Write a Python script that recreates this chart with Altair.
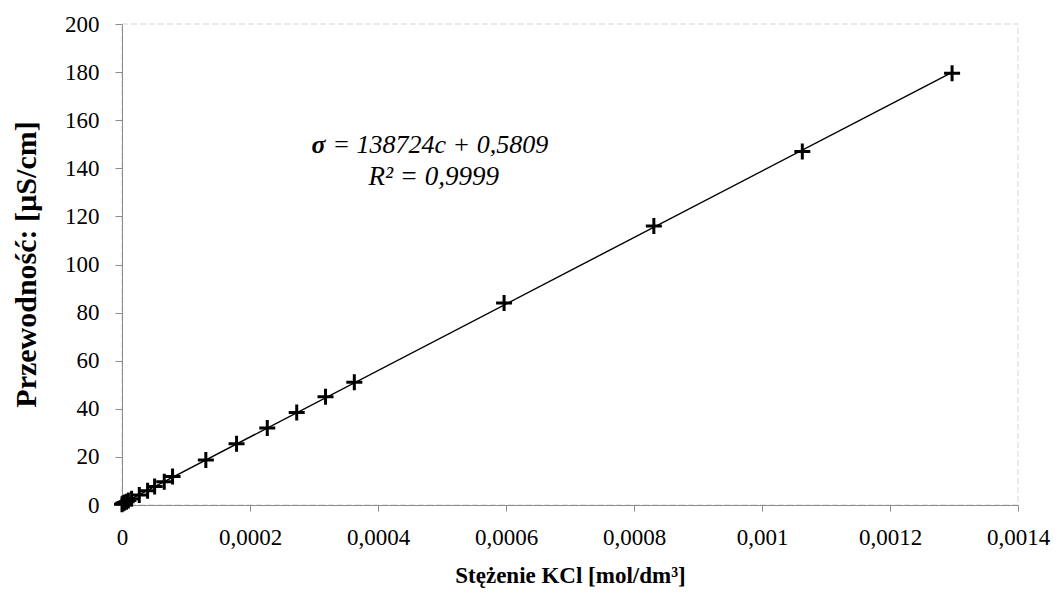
import altair as alt
import pandas as pd

# Concentration of KCl [mol/dm3] and conductivity [uS/cm]
conc = [0.0, 0.000002, 0.000004, 0.000007, 0.000010, 0.000015, 0.000027,
        0.000040, 0.000051, 0.000066, 0.000079, 0.000131, 0.000179,
        0.000227, 0.000273, 0.000318, 0.000363, 0.000597, 0.000831,
        0.001063, 0.001297]
cond = [0.3, 0.7, 1.0, 1.4, 1.9, 2.6, 4.2, 5.9, 7.7, 9.7, 11.8, 18.7, 25.5,
        32.0, 38.5, 45.0, 51.0, 84.0, 116.0, 147.0, 179.5]

x_ticks = [0, 0.0002, 0.0004, 0.0006, 0.0008, 0.001, 0.0012, 0.0014]
y_ticks = [0, 20, 40, 60, 80, 100, 120, 140, 160, 180, 200]

eq_sigma = "σ"
eq_rest = "= 138724c + 0,5809"
eq_r2 = "R² = 0,9999"

x_title = "Stężenie KCl [mol/dm³]"
y_title = "Przewodność: [µS/cm]"

FONT = "Liberation Serif"
AXIS_GREY = "#8c8c8c"

df = pd.DataFrame({"c": conc, "s": cond})
one = pd.DataFrame({"k": [0]})

xscale = alt.Scale(domain=[0, 0.0014], nice=False, zero=True)
yscale = alt.Scale(domain=[0, 200], nice=False)

x_axis = alt.Axis(
    values=x_ticks,
    labelExpr="replace(format(datum.value, '~g'), '.', ',')",
    grid=False, domainColor=AXIS_GREY, tickColor=AXIS_GREY, tickSize=6,
    labelPadding=15, labelFont=FONT, labelFontSize=23, labelColor="black",
    labelFlush=False, labelOverlap=False,
    title=x_title, titleFont=FONT, titleFontSize=23, titleFontWeight="bold",
    titleColor="black", titleX=448, titleY=70, titleBaseline="middle",
    titleAlign="center",
)
y_axis = alt.Axis(
    values=y_ticks,
    grid=False, domainColor=AXIS_GREY, tickColor=AXIS_GREY, tickSize=7,
    labelPadding=16, labelFont=FONT, labelFontSize=23, labelColor="black",
    labelFlush=False, labelOverlap=False,
    title=y_title, titleFont=FONT, titleFontSize=30, titleFontWeight="bold",
    titleColor="black", titleX=-96, titleY=240, titleAngle=270,
    titleBaseline="middle", titleAlign="center",
)

base = alt.Chart(df)

trend = base.transform_regression("c", "s", method="linear").mark_line(
    color="black", strokeWidth=1.4
).encode(
    x=alt.X("c:Q", scale=xscale, axis=x_axis),
    y=alt.Y("s:Q", scale=yscale, axis=y_axis),
)

points = base.mark_point(
    shape="M-1,0L1,0M0,-1L0,1", size=256, filled=False,
    stroke="black", strokeWidth=3, opacity=1, clip=False,
).encode(
    x=alt.X("c:Q", scale=xscale),
    y=alt.Y("s:Q", scale=yscale),
)

eq1a = alt.Chart(one).mark_text(
    text=eq_sigma, font=FONT, fontSize=26, fontStyle="italic",
    fontWeight="bold", align="right", baseline="alphabetic", color="black",
).encode(x=alt.datum(0.000318), y=alt.datum(146.4))

eq1b = alt.Chart(one).mark_text(
    text=eq_rest, font=FONT, fontSize=26, fontStyle="italic",
    align="left", baseline="alphabetic", color="black", dx=7,
).encode(x=alt.datum(0.000318), y=alt.datum(146.4))

eq2 = alt.Chart(one).mark_text(
    text=eq_r2, font=FONT, fontSize=27, fontStyle="italic",
    align="center", baseline="alphabetic", color="black",
).encode(x=alt.datum(0.000487), y=alt.datum(133.1))

chart = alt.layer(trend, points, eq1a, eq1b, eq2).properties(
    width=896, height=481,
    autosize=alt.AutoSizeParams(type="none"),
    padding={"left": 114, "top": 16, "right": 34, "bottom": 84},
    background="white",
).configure_view(
    stroke="#e4e4e4", strokeDash=[6, 3], strokeWidth=1.5,
)

chart.save("out.html", embed_options={"renderer": "svg", "actions": False})
